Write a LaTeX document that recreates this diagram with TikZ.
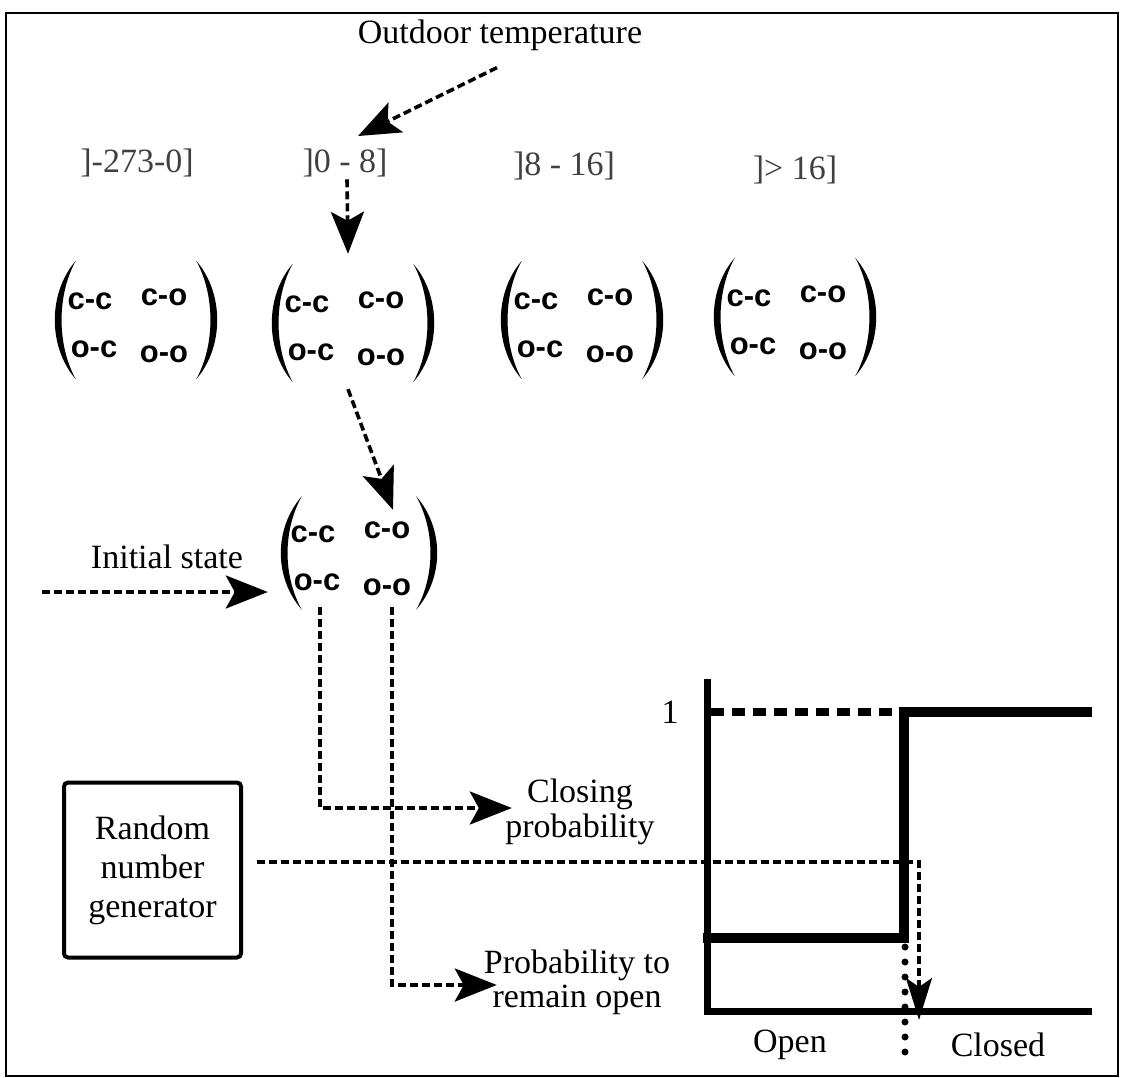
\documentclass[tikz,border=0pt]{standalone}
\usepackage{fontspec}
\setmainfont{Liberation Serif}
\newfontfamily\entryfont{Liberation Sans}
\usetikzlibrary{arrows.meta,calc}

\tikzset{
  txt/.style={font=\fontsize{34}{39}\selectfont, inner sep=0pt, align=center},
  rangelbl/.style={txt, text=black!75},
  ent/.style={font=\entryfont\bfseries\fontsize{31}{32}\selectfont, inner sep=0pt},
  matbox/.style={minimum width=168pt, minimum height=118pt, inner sep=0pt},
  dsh/.style={line width=3.6pt, dash pattern=on 8pt off 4pt},
  arr/.style={dsh, -{Stealth[length=42pt,width=33pt,inset=9pt]}},
  narrowarr/.style={dsh, -{Stealth[length=42pt,width=26pt,inset=9pt]}},
  rngbox/.style={txt, draw, line width=4pt, rounded corners=4pt,
    minimum width=177pt, minimum height=175pt},
}

\newcommand\mymat[2]{%
  \node[matbox,#2] (#1) {};
  \node[ent] (#1cc) at ([shift={(-46,-19)}]#1.center) {c-c};
  \node[ent] (#1co) at ([shift={(28,-23)}]#1.center) {c-o};
  \node[ent] (#1oc) at ([shift={(-42,29)}]#1.center) {o-c};
  \node[ent] (#1oo) at ([shift={(28,34)}]#1.center) {o-o};
  \fill ($(#1.north west)+(24,0)$) .. controls ($(#1.north west)+(-4,32)$) and ($(#1.south west)+(-4,-32)$) .. ($(#1.south west)+(24,0)$)
        .. controls ($(#1.south west)+(5,-34)$) and ($(#1.north west)+(5,34)$) .. cycle;
  \fill ($(#1.north east)+(-24,0)$) .. controls ($(#1.north east)+(4,32)$) and ($(#1.south east)+(4,-32)$) .. ($(#1.south east)+(-24,0)$)
        .. controls ($(#1.south east)+(-5,-34)$) and ($(#1.north east)+(-5,34)$) .. cycle;
}

\begin{document}
\begin{tikzpicture}[x=1pt,y=-1pt]
\useasboundingbox (0,0) rectangle (1124,1078);
\fill[white] (0,0) rectangle (1124,1078);
\draw[line width=2.5pt] (6,13) rectangle (1118,1076);

% texts
\node[txt] (outdoor) at (500,35) {Outdoor temperature};
\node[rangelbl] (r1) at (137,163) {]-273-0]};
\node[rangelbl] (r2) at (345,163) {]0 - 8]};
\node[rangelbl] (r3) at (564,166) {]8 - 16]};
\node[rangelbl] (r4) at (795,170) {]> 16]};

% matrices
\mymat{m1}{at={(136,320)}}
\mymat{m2}{at={(353,323)}}
\mymat{m3}{at={(582,320)}}
\mymat{m4}{at={(795,317)}}
\mymat{m0}{at={(359,553)},minimum width=162pt,minimum height=113pt}

\node[txt] (init) at (167,557) {Initial state};
\coordinate (initsrc) at (42,592);

\node[txt, font=\fontsize{34}{35}\selectfont] (closing) at (580,812) {Closing\\probability};
\node[txt, font=\fontsize{34}{34}\selectfont] (prob) at (577,982) {Probability to\\remain open};
\node[rngbox] (rng) at (152.5,870) {Random\\number\\generator};

% connectors
\draw[arr] ([shift={(-3,17)}]outdoor.south) -- ([shift={(13,-12.7)}]r2.north);
\draw[arr] ([shift={(2,2)}]r2.south) -- ([shift={(-5,-10)}]m2.north);
\draw[arr] ([shift={(-5,7)}]m2.south) -- ([shift={(34,13.5)}]m0.north);
\draw[arr] (initsrc) -- ([shift={(-10,39)}]m0.west);
\draw[arr] ([shift={(-39,-2.5)}]m0.south) |- ([shift={(6.6,-4)}]closing.west);
\draw[arr] ([shift={(33,-2.5)}]m0.south) |- ([shift={(13,3)}]prob.west);

% chart
\coordinate (origin) at (707,1011);
\coordinate (rtip) at (919,1020);
\draw[line width=7pt, line join=miter] (707,679) -- (origin) -- (1092,1011);
\draw[line width=8pt, dash pattern=on 13pt off 8pt] (711,712) -- (903,712);
\draw[line width=10pt, line join=miter] (703,938) -- (904,938) -- (904,712) -- (1092,712);
\draw[line width=7pt, line cap=round, dash pattern=on 0pt off 15pt] (905,947) -- (905,1062);
\node[txt] (one) at (670,712) {1};
\node[txt] (open) at (790,1045) {Open};
\node[txt] (closed) at (998,1045) {Closed};

\draw[narrowarr] ([shift={(14,-8)}]rng.east) -| (rtip);
\end{tikzpicture}
\end{document}
